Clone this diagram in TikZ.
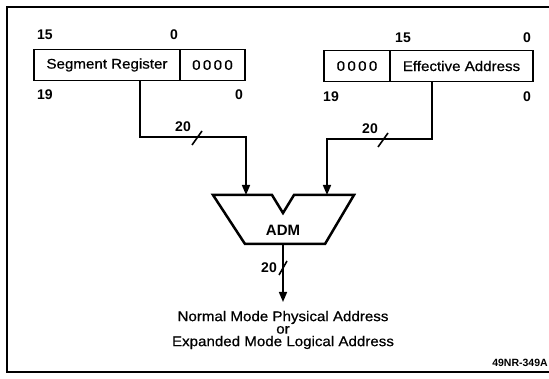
\documentclass[tikz,border=0pt]{standalone}
\usepackage{fontspec}
\setmainfont{Liberation Sans}
\newfontfamily\widefont[FakeStretch=1.08,FakeBold=0.6]{Liberation Sans}
\newfontfamily\widerfont[FakeStretch=1.08,FakeBold=0.6]{Liberation Sans}
\usetikzlibrary{arrows.meta}
\begin{document}
\begin{tikzpicture}[x=1pt,y=-1pt,
  reg/.style={draw,line width=1.8pt,minimum height=31pt,inner sep=0pt,
    font=\widefont\fontsize{14}{16}\selectfont},
  bitlbl/.style={inner sep=0pt,font=\bfseries\fontsize{14}{16}\selectfont},
  wire/.style={line width=1.6pt},
  arr/.style={wire,-{Triangle[length=10pt,width=8pt]}},
  slash/.style={line width=1.6pt},
  frame/.style={line width=1.8pt}]
\useasboundingbox (0,0) rectangle (549,379);
\draw[frame] (549,7) -- (7,7) -- (7,372) -- (549,372);

% left register
\node[reg,minimum width=146pt] (seg) at (107,65) {Segment Register};
\node[reg,minimum width=65pt] (z1) at (212.5,65) {0\,0\,0\,0};
\node[bitlbl] (l15) at (45,35) {15};
\node[bitlbl] (l0a) at (174,35) {0};
\node[bitlbl] (l19) at (45,95) {19};
\node[bitlbl] (l0b) at (239,95) {0};

% right register
\node[reg,minimum width=66pt] (z2) at (357,66) {0\,0\,0\,0};
\node[reg,minimum width=143pt] (ea) at (461.5,66) {Effective Address};
\node[bitlbl] (r15) at (403,38) {15};
\node[bitlbl] (r0a) at (527,38) {0};
\node[bitlbl] (r19) at (331,97) {19};
\node[bitlbl] (r0b) at (527,97) {0};

% ADM
\draw[line width=2.5pt,line join=miter]
  (213,195) -- (272,195) -- (283,213) -- (294,195) -- (354,195)
  -- (325,244) -- (245,244) -- cycle;
\node[inner sep=0pt,font=\bfseries\fontsize{15}{17}\selectfont] (adm) at (283,230) {ADM};
\coordinate (in1) at (246,195);
\coordinate (in2) at (327,195);
\coordinate (admout) at (283,244);

% inputs
\coordinate (s1) at (140,0);
\coordinate (s2) at (432,0);
\draw[arr] (seg.south -| s1) -- (140,137) -- (246,137) -- (in1);
\draw[arr] (ea.south -| s2) -- (432,139) -- (327,139) -- (in2);
\draw[slash] (192,145) -- (202,131);
\draw[slash] (378,147) -- (388,133);
\node[bitlbl] (w1) at (183,127) {20};
\node[bitlbl] (w2) at (370,129) {20};

% output
\node[inner sep=0pt,align=center,font=\widerfont\fontsize{14}{12.5}\selectfont] (out) at (283,330)
  {Normal Mode Physical Address\\or\\Expanded Mode Logical Address};
\draw[arr] (admout) -- (283,302);
\draw[slash] (279,275) -- (287,261);
\node[bitlbl] (w3) at (269,268) {20};

\node[inner sep=0pt,font=\bfseries\fontsize{10.5}{12}\selectfont] (tag) at (520,363) {49NR-349A};
\end{tikzpicture}
\end{document}
